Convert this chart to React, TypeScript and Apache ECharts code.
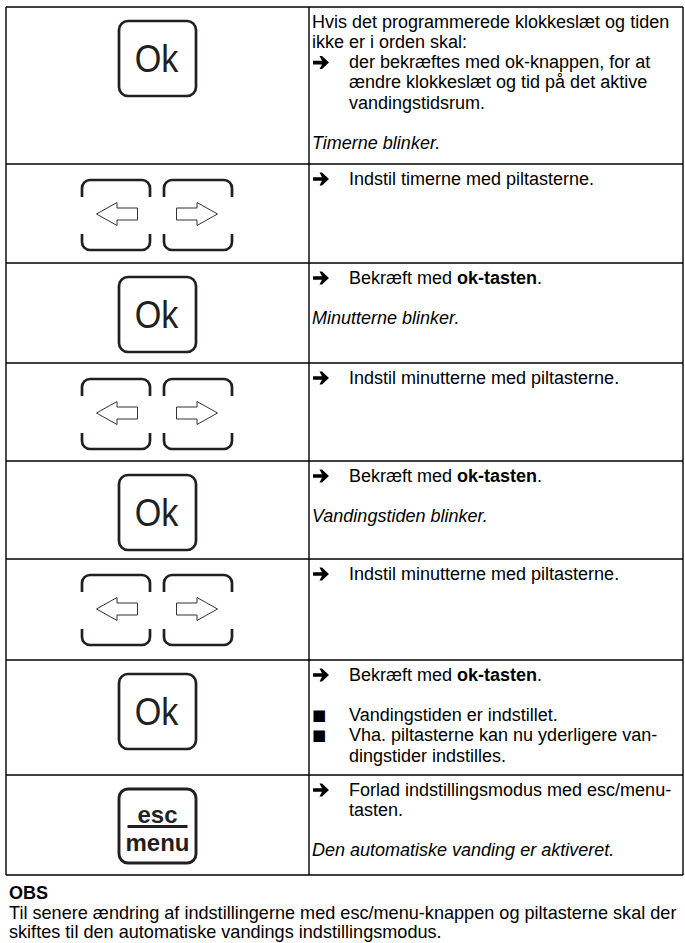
import React, { useEffect, useRef } from "react";
import * as echarts from "echarts";

const W = 685;
const H = 943;
const SANS = '"Liberation Sans", Arial, Helvetica, sans-serif';
const SYM = '"DejaVu Sans", sans-serif';
const INK = "#000";
const KEY_INK = "#231f20";

// Table geometry (row boundaries, top to bottom)
const ROW_EDGES = [7, 164, 263, 363, 461, 559, 660, 775, 875];
const ROW_KEYS = ["ok", "arrows", "ok", "arrows", "ok", "arrows", "ok", "esc"];

// Lines of the right column: [kind, text]; kinds: p, arrow, indent, bullet, italic, blank
const ROW_1 = [
  ["p", "Hvis det programmerede klokkeslæt og tiden"],
  ["p", "ikke er i orden skal:"],
  ["arrow", "der bekræftes med ok-knappen, for at"],
  ["indent", "ændre klokkeslæt og tid på det aktive"],
  ["indent", "vandingstidsrum."],
  ["blank", ""],
  ["italic", "Timerne blinker."],
];
const ROW_2 = [["arrow", "Indstil timerne med piltasterne."]];
const ROW_3 = [
  ["arrow", "Bekræft med **ok-tasten**."],
  ["blank", ""],
  ["italic", "Minutterne blinker."],
];
const ROW_4 = [["arrow", "Indstil minutterne med piltasterne."]];
const ROW_5 = [
  ["arrow", "Bekræft med **ok-tasten**."],
  ["blank", ""],
  ["italic", "Vandingstiden blinker."],
];
const ROW_6 = [["arrow", "Indstil minutterne med piltasterne."]];
const ROW_7 = [
  ["arrow", "Bekræft med **ok-tasten**."],
  ["blank", ""],
  ["bullet", "Vandingstiden er indstillet."],
  ["bullet", "Vha. piltasterne kan nu yderligere van-"],
  ["indent", "dingstider indstilles."],
];
const ROW_8 = [
  ["arrow", "Forlad indstillingsmodus med esc/menu-"],
  ["indent", "tasten."],
  ["blank", ""],
  ["italic", "Den automatiske vanding er aktiveret."],
];
const ROW_TEXTS = [ROW_1, ROW_2, ROW_3, ROW_4, ROW_5, ROW_6, ROW_7, ROW_8];

const OBS_TITLE = "OBS";
const OBS_LINES = [
  "Til senere ændring af indstillingerne med esc/menu-knappen og piltasterne skal der",
  "skiftes til den automatiske vandings indstillingsmodus.",
];

const BULLET_GLYPH = "■";
const OK_LABEL = "Ok";
const ESC_LABEL = "esc";
const MENU_LABEL = "menu";

function measure(text: string, font: string): number {
  const c = document.createElement("canvas").getContext("2d");
  if (!c) return text.length * 8;
  c.font = font;
  return c.measureText(text).width;
}

function buildElements(): any[] {
  const els: any[] = [];
  const LEFT = 6;
  const RIGHT = 683;
  const SPLIT = 309;
  const FS = 18;
  const LH = 20.3;
  const FIRST = 14.5;
  const TEXT_X = 312;
  const INDENT_X = 349;
  const cx = (LEFT + SPLIT) / 2;

  const hline = (y: number, x1: number, x2: number) =>
    els.push({ type: "line", silent: true, shape: { x1, y1: y, x2, y2: y }, style: { stroke: INK, lineWidth: 1.4 } });
  const vline = (x: number, y1: number, y2: number) =>
    els.push({ type: "line", silent: true, shape: { x1: x, y1, x2: x, y2 }, style: { stroke: INK, lineWidth: 1.4 } });

  // grid
  ROW_EDGES.forEach((y) => hline(y, LEFT, RIGHT));
  const top = ROW_EDGES[0];
  const bottom = ROW_EDGES[ROW_EDGES.length - 1];
  vline(LEFT, top, bottom);
  vline(RIGHT, top, bottom);
  vline(SPLIT, top, bottom);

  const plain = (x: number, y: number, text: string, extra: any = {}, scaleX = 1) =>
    els.push({
      type: "text",
      silent: true,
      x,
      y,
      scaleX,
      style: {
        text,
        fontSize: FS,
        fontFamily: SANS,
        fill: INK,
        align: "left",
        verticalAlign: "middle",
        ...extra,
      },
    });

  const richLine = (x: number, y: number, text: string) => {
    const parts = text.split("**");
    const t = parts
      .map((p, i) => (p ? `{${i % 2 ? "b" : "n"}|${p}}` : ""))
      .join("");
    els.push({
      type: "text",
      silent: true,
      x,
      y,
      style: {
        text: t,
        align: "left",
        verticalAlign: "middle",
        rich: {
          n: { fontSize: FS, fontFamily: SANS, fill: INK },
          b: { fontSize: FS, fontFamily: SANS, fill: INK, fontWeight: "bold" },
        },
      },
    });
  };

  // heavy bullet arrow (symbol mark)
  const arrowMark = (x: number, y: number) => {
    els.push({
      type: "polygon",
      silent: true,
      shape: {
        points: [
          [x, y - 1.8],
          [x + 9, y - 1.8],
          [x + 6.5, y - 6.5],
          [x + 9, y - 6.5],
          [x + 16, y],
          [x + 9, y + 6.5],
          [x + 6.5, y + 6.5],
          [x + 9, y + 1.8],
          [x, y + 1.8],
        ],
      },
      style: { fill: INK },
    });
  };

  // keys
  const okKey = (rowTop: number) => {
    const t = rowTop + 14;
    els.push({
      type: "rect",
      silent: true,
      shape: { x: cx - 38.5, y: t, width: 77, height: 75, r: 9 },
      style: { fill: "#fff", stroke: KEY_INK, lineWidth: 2.7 },
    });
    els.push({
      type: "text",
      silent: true,
      x: cx - 1,
      y: t + 38,
      scaleX: 0.9,
      style: { text: OK_LABEL, fontSize: 38, fontFamily: SANS, fill: KEY_INK, align: "center", verticalAlign: "middle" },
    });
  };

  const arrowKeys = (rowTop: number) => {
    const t = rowTop + 16;
    const kw = 68;
    const kh = 70;
    const xs = [cx - 75.5, cx + 6.5];
    xs.forEach((kx, k) => {
      els.push({
        type: "rect",
        silent: true,
        shape: { x: kx, y: t, width: kw, height: kh, r: 8 },
        style: { fill: "#fff", stroke: KEY_INK, lineWidth: 2.7 },
      });
      [kx, kx + kw].forEach((sx) =>
        els.push({
          type: "rect",
          silent: true,
          shape: { x: sx - 3, y: t + 17, width: 6, height: 37 },
          style: { fill: "#fff" },
        })
      );
      const ax = kx + kw / 2 + (k === 0 ? 1 : -1);
      const ay = t + 34;
      const d = k === 0 ? -1 : 1;
      const pts = [
        [ax + d * 20.5, ay],
        [ax, ay - 11.5],
        [ax, ay - 6],
        [ax - d * 20.5, ay - 6],
        [ax - d * 20.5, ay + 6],
        [ax, ay + 6],
        [ax, ay + 11.5],
      ];
      els.push({
        type: "polygon",
        silent: true,
        shape: { points: pts },
        style: { fill: "#fff", stroke: "#333", lineWidth: 1 },
      });
    });
  };

  const escKey = (rowTop: number) => {
    const t = rowTop + 14;
    els.push({
      type: "rect",
      silent: true,
      shape: { x: cx - 38.5, y: t, width: 77, height: 74, r: 9 },
      style: { fill: "#fff", stroke: KEY_INK, lineWidth: 2.9 },
    });
    els.push({
      type: "text",
      silent: true,
      x: cx,
      y: t + 25,
      style: { text: ESC_LABEL, fontSize: 24, fontWeight: "bold", fontFamily: SANS, fill: KEY_INK, align: "center", verticalAlign: "middle" },
    });
    els.push({
      type: "rect",
      silent: true,
      shape: { x: cx - 30, y: t + 36, width: 60, height: 3 },
      style: { fill: KEY_INK },
    });
    els.push({
      type: "text",
      silent: true,
      x: cx,
      y: t + 53,
      style: { text: MENU_LABEL, fontSize: 24, fontWeight: "bold", fontFamily: SANS, fill: KEY_INK, align: "center", verticalAlign: "middle" },
    });
  };

  ROW_KEYS.forEach((k, i) => {
    const rt = ROW_EDGES[i];
    if (k === "ok") okKey(rt);
    else if (k === "arrows") arrowKeys(rt);
    else escKey(rt);
  });

  // right column text
  ROW_TEXTS.forEach((lines, i) => {
    const rt = ROW_EDGES[i];
    lines.forEach(([kind, text], j) => {
      const y = rt + FIRST + j * LH;
      if (kind === "blank") return;
      if (kind === "p") plain(TEXT_X, y, text);
      else if (kind === "indent") plain(INDENT_X, y, text);
      else if (kind === "italic") plain(TEXT_X, y, text, { fontStyle: "italic" });
      else if (kind === "arrow") {
        arrowMark(TEXT_X + 1, y + 0.5);
        richLine(INDENT_X, y, text);
      } else if (kind === "bullet") {
        plain(TEXT_X, y, BULLET_GLYPH, { fontFamily: SYM, fontSize: 15 });
        plain(INDENT_X, y, text);
      }
    });
  });

  // OBS
  const obsTop = ROW_EDGES[ROW_EDGES.length - 1];
  plain(9, obsTop + 18, OBS_TITLE, { fontWeight: "bold" });
  OBS_LINES.forEach((t, i) => {
    const font = `${FS}px ${SANS}`;
    const k = 668 / measure(OBS_LINES[0], font);
    els.push({
      type: "text",
      silent: true,
      x: 9,
      y: obsTop + 38 + i * 19.5,
      scaleX: k,
      style: { text: t, fontSize: FS, fontFamily: SANS, fill: INK, align: "left", verticalAlign: "middle" },
    });
  });

  return els;
}

export default function App() {
  const ref = useRef<HTMLDivElement>(null);
  useEffect(() => {
    document.body.style.margin = "0";
    if (!ref.current) return;
    const chart = echarts.init(ref.current, null, { renderer: "svg" });
    chart.setOption({
      animation: false,
      backgroundColor: "#fff",
      graphic: { elements: buildElements() },
    });
    return () => chart.dispose();
  }, []);
  return <div ref={ref} style={{ width: W, height: H, background: "#fff" }} />;
}
